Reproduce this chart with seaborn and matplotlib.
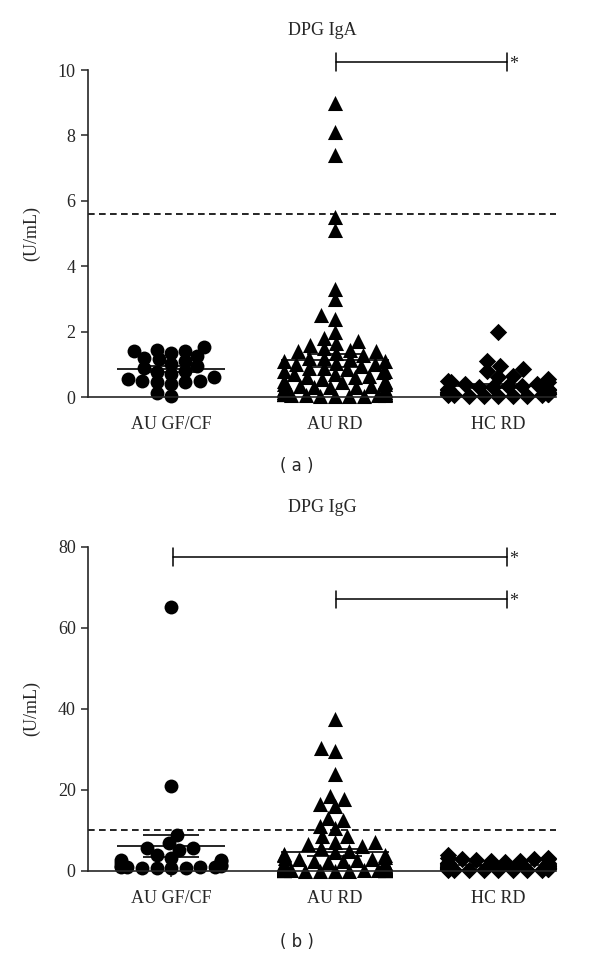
import warnings

import matplotlib
matplotlib.use("Agg")
import matplotlib.pyplot as plt
import numpy as np
import seaborn as sns

warnings.filterwarnings("ignore")

groups = ["AU GF/CF", "AU RD", "HC RD"]
markers = ["o", "^", "D"]
marker_areas = [100, 118, 78]
step = 1.3  # distance between groups on the x axis
positions = [0.0, step, 2 * step]

# DPG IgA (U/mL)
iga_gfcf = [1.52, 1.45, 1.4, 1.42, 1.35, 1.25, 1.2, 1.15, 1.1, 1.0, 0.95, 0.9,
            0.8, 0.75, 0.7, 0.6, 0.55, 0.5, 0.5, 0.45, 0.45, 0.4, 0.12, 0.04]
iga_aurd = [9.0, 8.1, 7.4, 5.5, 5.1, 3.3, 3.0, 2.5, 2.4, 2.0,
            1.8, 1.7, 1.65, 1.6, 1.5, 1.45, 1.4, 1.4, 1.35, 1.3,
            1.2, 1.2, 1.15, 1.1, 1.1, 1.05, 1.0, 1.0, 0.95, 0.9,
            0.9, 0.85, 0.8, 0.8, 0.75, 0.7, 0.7, 0.65, 0.6, 0.6,
            0.55, 0.5, 0.5, 0.45, 0.45, 0.4, 0.4, 0.4, 0.35, 0.35,
            0.3, 0.3, 0.3, 0.25, 0.25, 0.25, 0.2, 0.2, 0.2, 0.2,
            0.15, 0.15, 0.15, 0.15, 0.1, 0.1, 0.1, 0.1, 0.1, 0.1,
            0.08, 0.08, 0.06, 0.06, 0.05, 0.05, 0.04, 0.04, 0.03, 0.02]
iga_hcrd = [2.0, 1.1, 0.95, 0.85, 0.8, 0.65, 0.6, 0.55, 0.5, 0.45,
            0.45, 0.4, 0.4, 0.35, 0.35, 0.3, 0.3, 0.25, 0.25, 0.2,
            0.2, 0.2, 0.15, 0.15, 0.15, 0.12, 0.12, 0.1, 0.1, 0.1,
            0.08, 0.08, 0.06, 0.05, 0.05, 0.04, 0.03, 0.03, 0.02, 0.02]

# DPG IgG (U/mL)
igg_gfcf = [65.0, 21.0, 8.9, 6.9, 5.7, 5.7, 5.2, 4.0, 3.2, 2.7, 2.7, 2.5,
            2.0, 1.5, 1.2, 1.1, 1.0, 1.0, 0.9, 0.9, 0.8, 0.8, 0.7, 0.7]
igg_aurd = [37.5, 30.2, 29.5, 24.0, 18.5, 17.8, 16.5, 16.0, 13.0, 12.5,
            11.0, 10.5, 8.5, 8.5, 7.2, 7.2, 6.5, 6.0, 5.5, 5.0,
            4.6, 4.2, 4.0, 3.8, 3.5, 3.2, 3.0, 2.8, 2.6, 2.5,
            2.4, 2.2, 2.0, 2.0, 1.9, 1.8, 1.7, 1.6, 1.5, 1.5,
            1.4, 1.3, 1.2, 1.2, 1.1, 1.0, 1.0, 0.9, 0.9, 0.8,
            0.8, 0.7, 0.7, 0.6, 0.6, 0.5, 0.5, 0.5, 0.4, 0.4,
            0.4, 0.3, 0.3, 0.3, 0.3, 0.25, 0.25, 0.2, 0.2, 0.2,
            0.15, 0.15, 0.1, 0.1, 0.1, 0.1, 0.05, 0.05, 0.05, 0.05]
igg_hcrd = [3.8, 3.2, 3.1, 3.0, 3.0, 2.8, 2.6, 2.5, 2.3, 2.2,
            2.0, 1.9, 1.8, 1.7, 1.6, 1.5, 1.4, 1.3, 1.2, 1.1,
            1.0, 1.0, 0.9, 0.8, 0.8, 0.7, 0.6, 0.6, 0.5, 0.5,
            0.4, 0.4, 0.3, 0.3, 0.25, 0.2, 0.2, 0.15, 0.1, 0.1]

cutoffs = [5.6, 10.0]
# significance brackets: (from group index, to group index, height)
brackets_a = [(1, 2, 10.25)]
brackets_b = [(0, 2, 77.5), (1, 2, 67.0)]

sns.set_style("ticks")
plt.rcParams["font.family"] = ["Liberation Serif", "DejaVu Serif"]

fig = plt.figure(figsize=(6, 9.59), dpi=100)
ax_a = fig.add_axes([0.147, 0.586, 0.78, 0.341])
ax_b = fig.add_axes([0.147, 0.092, 0.78, 0.338])


def draw_panel(ax, data, title, ymax, ystep, cutoff, brackets):
    colls = []
    for pos, vals, marker in zip(positions, data, markers):
        n0 = len(ax.collections)
        sns.swarmplot(x=[pos] * len(vals), y=vals, native_scale=True, ax=ax,
                      color="black", marker=marker, size=10, linewidth=0)
        colls.append(ax.collections[n0:])

    for pos, vals in zip(positions, data):
        m = np.mean(vals)
        se = np.std(vals, ddof=1) / np.sqrt(len(vals))
        ax.hlines(m, pos - 0.33 * step, pos + 0.33 * step, color="black", lw=1.2, zorder=3)
        ax.hlines([m - se, m + se], pos - 0.17 * step, pos + 0.17 * step,
                  color="black", lw=1.2, zorder=3)

    ax.axhline(cutoff, color="black", lw=1.2, ls=(0, (4, 2.6)))

    tick_h = ymax * 0.027
    for g0, g1, y in brackets:
        x0, x1 = positions[g0] + 0.01 * step, positions[g1] + 0.055 * step
        ax.plot([x0, x1], [y, y], color="black", lw=1.1, clip_on=False)
        ax.plot([x0, x0], [y - tick_h, y + tick_h], color="black", lw=1.1, clip_on=False)
        ax.plot([x1, x1], [y - tick_h, y + tick_h], color="black", lw=1.1, clip_on=False)
        ax.text(x1 + 0.015 * step, y - tick_h * 0.3, "*", ha="left", va="center",
                fontsize=13)

    ax.set_xlim(-0.507 * step, 2.355 * step)
    ax.set_xticks(positions, groups)
    ax.set_yticks(np.arange(0, ymax + 1e-9, ystep))
    ax.set_xlabel("")
    ax.set_ylabel("(U/mL)", fontsize=13)
    ax.yaxis.set_label_coords(-0.103, 0.5)
    ax.set_title(title, fontsize=13, pad=25)
    ax.tick_params(axis="y", length=5, width=1.1, labelsize=13, pad=4)
    ax.tick_params(axis="x", length=4, width=1.1, labelsize=13, pad=10)
    for s in ["top", "right"]:
        ax.spines[s].set_visible(False)
    for s in ["left", "bottom"]:
        ax.spines[s].set_linewidth(1.2)
    return colls


colls_a = draw_panel(ax_a, [iga_gfcf, iga_aurd, iga_hcrd], "DPG IgA", 10, 2,
                     cutoffs[0], brackets_a)
colls_b = draw_panel(ax_b, [igg_gfcf, igg_aurd, igg_hcrd], "DPG IgG", 80, 20,
                     cutoffs[1], brackets_b)

# column-scatter look: lay out the swarms on a stretched y scale so the
# markers may overlap vertically but sit side by side horizontally
squeeze = 0.7
ax_a.set_ylim(0, 10 * squeeze)
ax_b.set_ylim(0, 80 * squeeze)
fig.canvas.draw()
ax_a.set_ylim(0, 10)
ax_b.set_ylim(0, 80)
for colls in [colls_a, colls_b]:
    for group_colls, area in zip(colls, marker_areas):
        for c in group_colls:
            if "draw" in c.__dict__:
                del c.draw
            c.set_sizes([area])
            c.set_clip_on(False)
            c.set_zorder(2)

fig.text(0.495, 0.514, "( a )", ha="center", va="center", fontsize=12,
         family="DejaVu Sans")
fig.text(0.495, 0.018, "( b )", ha="center", va="center", fontsize=12,
         family="DejaVu Sans")

fig.savefig("out.png", dpi=100)
